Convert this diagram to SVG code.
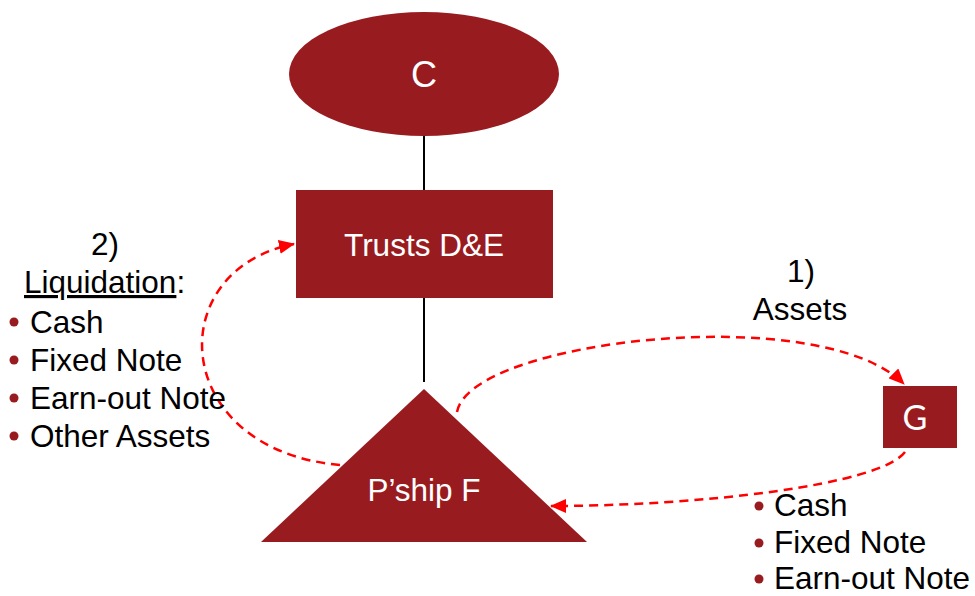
<svg xmlns="http://www.w3.org/2000/svg" width="975" height="596" viewBox="0 0 975 596">
<style>
.node{fill:#981B1F}
.nt{fill:#fff;font-family:"Liberation Sans",Arial,sans-serif;text-anchor:middle}
.t{fill:#000;font-family:"Liberation Sans",Arial,sans-serif;font-size:31.5px}
.b{fill:#981B1F}
.solid{stroke:#000;stroke-width:2;fill:none}
.dash{stroke:#FF0000;stroke-width:2.5;fill:none;stroke-dasharray:9,6}
</style>
<defs>
<marker id="arr" viewBox="0 0 16 14" refX="15" refY="7" markerWidth="16" markerHeight="14" markerUnits="userSpaceOnUse" orient="auto">
<path d="M0,0 L16,7 L0,14 z" fill="#FF0000"/>
</marker>
</defs>
<g id="connectors">
<line class="solid" x1="424" y1="136" x2="424" y2="190"/>
<line class="solid" x1="424" y1="298" x2="424" y2="382"/>
<path class="dash" d="M457,412 C470,340 820,300 904,384" marker-end="url(#arr)"/>
<path class="dash" d="M905,452 C880,485 700,506 551,506" marker-end="url(#arr)"/>
<path class="dash" d="M340,465 C170,450 160,270 294,244" marker-end="url(#arr)"/>
</g>
<g id="node-C">
<ellipse class="node" cx="424" cy="74" rx="135" ry="62"/>
<text class="nt" x="424" y="87" font-size="36">C</text>
</g>
<g id="node-trusts">
<rect class="node" x="296" y="190" width="257" height="108"/>
<text class="nt" x="424" y="256" font-size="31.5">Trusts D&amp;E</text>
</g>
<g id="node-pship">
<polygon class="node" points="424,389 587,542 261,542"/>
<text class="nt" x="424" y="501" font-size="31.5">P’ship F</text>
</g>
<g id="node-G">
<rect class="node" x="883" y="386" width="74" height="62"/>
<text class="nt" x="915" y="430" font-size="34" style="font-family:Lato,'Open Sans',sans-serif">G</text>
</g>
<g id="label-liquidation">
<text class="t" x="105" y="255" text-anchor="middle">2)</text>
<text class="t" x="24" y="293"><tspan text-decoration="underline">Liquidation</tspan>:</text>
<circle class="b" cx="14" cy="322" r="4.5"/>
<text class="t" x="30" y="333">Cash</text>
<circle class="b" cx="14" cy="360" r="4.5"/>
<text class="t" x="30" y="371">Fixed Note</text>
<circle class="b" cx="14" cy="398" r="4.5"/>
<text class="t" x="30" y="409">Earn-out Note</text>
<circle class="b" cx="14" cy="436" r="4.5"/>
<text class="t" x="30" y="447">Other Assets</text>
</g>
<g id="label-assets">
<text class="t" x="801" y="282" text-anchor="middle">1)</text>
<text class="t" x="800" y="320" text-anchor="middle">Assets</text>
</g>
<g id="label-consideration">
<circle class="b" cx="759" cy="506" r="4.5"/>
<text class="t" x="774" y="516">Cash</text>
<circle class="b" cx="759" cy="543" r="4.5"/>
<text class="t" x="774" y="553">Fixed Note</text>
<circle class="b" cx="759" cy="579" r="4.5"/>
<text class="t" x="774" y="589">Earn-out Note</text>
</g>
</svg>
